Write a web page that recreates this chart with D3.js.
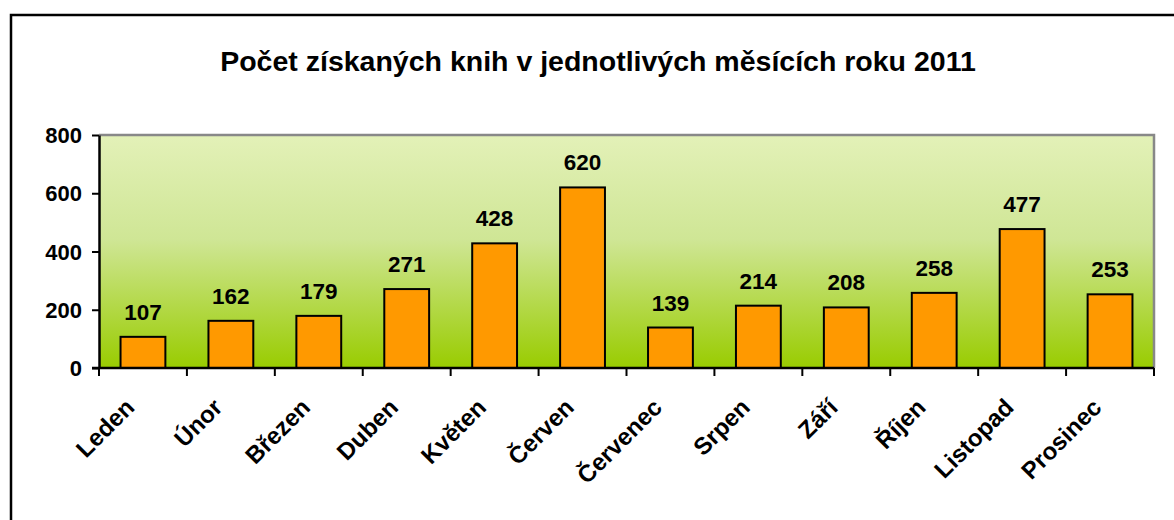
<!DOCTYPE html>
<html>
<head>
<meta charset="utf-8">
<script src="https://cdn.jsdelivr.net/npm/d3@7"></script>
<style>
  body { margin: 0; background: #fff; }
  text { font-family: "Liberation Sans", Arial, sans-serif; font-weight: bold; fill: #000; }
</style>
</head>
<body>
<div id="chart"></div>
<script>
// Months and the number of books acquired in each
let months = ["Leden", "Únor", "Březen", "Duben", "Květen", "Červen",
  "Červenec", "Srpen", "Září", "Říjen", "Listopad", "Prosinec"];
let books = [107, 162, 179, 271, 428, 620, 139, 214, 208, 258, 477, 253];
let yTicks = [0, 200, 400, 600, 800];

let width = 1174, height = 520;
let margin = { top: 135, left: 99, right: 20, bottom: 152 };
let chartWidth = width - margin.left - margin.right;
let chartHeight = height - margin.top - margin.bottom;

let svg = d3.select("#chart").append("svg")
  .attr("width", width)
  .attr("height", height);

// outer frame (runs off the right and bottom)
svg.append("rect")
  .attr("x", 11).attr("y", 15)
  .attr("width", 1300).attr("height", 700)
  .attr("fill", "none")
  .attr("stroke", "#000")
  .attr("stroke-width", 2.5);

svg.append("text")
  .attr("x", 598).attr("y", 71)
  .attr("text-anchor", "middle")
  .style("font-size", "28.5px")
  .text("Počet získaných knih v jednotlivých měsících roku 2011");

let defs = svg.append("defs");
let grad = defs.append("linearGradient")
  .attr("id", "bg").attr("x1", 0).attr("y1", 0).attr("x2", 0).attr("y2", 1);
grad.append("stop").attr("offset", "0%").attr("stop-color", "#e3f1b8");
grad.append("stop").attr("offset", "45%").attr("stop-color", "#cfe695");
grad.append("stop").attr("offset", "100%").attr("stop-color", "#99cc00");

let xScale = d3.scaleBand()
  .domain(months)
  .range([0, chartWidth])
  .paddingInner(0.49)
  .paddingOuter(0.245);

let yScale = d3.scaleLinear()
  .domain([0, 800])
  .range([chartHeight, 0]);

let chart = svg.append("g")
  .attr("transform", `translate(${margin.left},${margin.top})`);

chart.append("rect")
  .attr("width", chartWidth).attr("height", chartHeight)
  .attr("fill", "url(#bg)");

// gray top and right edges of the plot area
chart.append("path")
  .attr("d", `M0,0H${chartWidth}V${chartHeight}`)
  .attr("fill", "none")
  .attr("stroke", "#888")
  .attr("stroke-width", 2.5);

chart.selectAll(".bar")
  .data(books)
  .join("rect")
  .attr("class", "bar")
  .attr("x", (d, i) => xScale(months[i]))
  .attr("y", d => yScale(d))
  .attr("width", xScale.bandwidth())
  .attr("height", d => chartHeight - yScale(d))
  .attr("fill", "#ff9900")
  .attr("stroke", "#000")
  .attr("stroke-width", 2);

chart.selectAll(".value")
  .data(books)
  .join("text")
  .attr("class", "value")
  .attr("x", (d, i) => xScale(months[i]) + xScale.bandwidth() / 2)
  .attr("y", d => yScale(d) - 17)
  .attr("text-anchor", "middle")
  .style("font-size", "22.5px")
  .text(d => d);

// y axis
let yAxis = d3.axisLeft(yScale)
  .tickValues(yTicks)
  .tickSize(7)
  .tickPadding(10)
  .tickSizeOuter(0);

let yG = chart.append("g").call(yAxis);
yG.select(".domain").attr("stroke", "#000").attr("stroke-width", 2.5);
yG.selectAll(".tick line").attr("stroke", "#000").attr("stroke-width", 2);
yG.selectAll(".tick text").style("font-size", "22px").attr("dy", "0.35em");

// x axis: ticks at category boundaries
let step = chartWidth / months.length;
let xG = chart.append("g").attr("transform", `translate(0,${chartHeight})`);
xG.append("line")
  .attr("x1", -7).attr("x2", chartWidth)
  .attr("stroke", "#000").attr("stroke-width", 2.5);
xG.selectAll(".xtick")
  .data(d3.range(months.length + 1))
  .join("line")
  .attr("class", "xtick")
  .attr("x1", d => d * step).attr("x2", d => d * step)
  .attr("y1", 0).attr("y2", 8)
  .attr("stroke", "#000").attr("stroke-width", 2);

xG.selectAll(".xlabel")
  .data(months)
  .join("text")
  .attr("class", "xlabel")
  .attr("text-anchor", "end")
  .style("font-size", "24px")
  .attr("transform", d => `translate(${xScale(d) + xScale.bandwidth() / 2 - 13},${35}) rotate(-45)`)
  .attr("dy", "0.35em")
  .text(d => d);
</script>
</body>
</html>
